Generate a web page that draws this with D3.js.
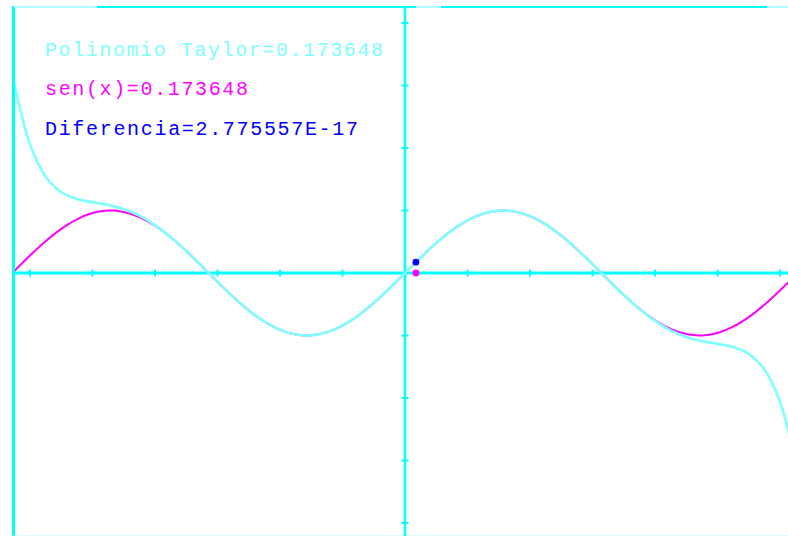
<!DOCTYPE html>
<html>
<head>
<meta charset="utf-8">
<script src="https://cdn.jsdelivr.net/npm/d3@7"></script>
<style>
  html, body { margin: 0; padding: 0; background: #ffffff; }
  svg { display: block; }
</style>
</head>
<body>
<script>
// ---------- data ----------
const xValues = [-6.2832, -6.25, -6, -5.75, -5.5, -5.25, -5, -4.75, -4.5, -4.25, -4, -3.75, -3.5, -3.25,
  -3, -2.75, -2.5, -2.25, -2, -1.75, -1.5, -1.25, -1, -0.75, -0.5, -0.25, 0,
  0.25, 0.5, 0.75, 1, 1.25, 1.5, 1.75, 2, 2.25, 2.5, 2.75, 3,
  3.25, 3.5, 3.75, 4, 4.25, 4.5, 4.75, 5, 5.25, 5.5, 5.75, 6, 6.25, 6.2832];

const sinValues = [0, 0.0332, 0.2794, 0.5083, 0.7055, 0.8589, 0.9589, 0.9993, 0.9775, 0.8950, 0.7568, 0.5716, 0.3508, 0.1082,
  -0.1411, -0.3817, -0.5985, -0.7781, -0.9093, -0.9840, -0.9975, -0.9490, -0.8415, -0.6816, -0.4794, -0.2474, 0,
  0.2474, 0.4794, 0.6816, 0.8415, 0.9490, 0.9975, 0.9840, 0.9093, 0.7781, 0.5985, 0.3817, 0.1411,
  -0.1082, -0.3508, -0.5716, -0.7568, -0.8950, -0.9775, -0.9993, -0.9589, -0.8589, -0.7055, -0.5083, -0.2794, -0.0332, 0];

const taylorValues = [3.1951, 3.0212, 2.0602, 1.5455, 1.2947, 1.1846, 1.1336, 1.0900, 1.0229, 0.9168, 0.7668, 0.5760, 0.3526, 0.1089,
  -0.1411, -0.3817, -0.5985, -0.7781, -0.9093, -0.9840, -0.9975, -0.9490, -0.8415, -0.6816, -0.4794, -0.2474, 0,
  0.2474, 0.4794, 0.6816, 0.8415, 0.9490, 0.9975, 0.9840, 0.9093, 0.7781, 0.5985, 0.3817, 0.1411,
  -0.1089, -0.3526, -0.5760, -0.7668, -0.9168, -1.0229, -1.0900, -1.1336, -1.1846, -1.2947, -1.5455, -2.0602, -3.0212, -3.1951];

const xTicks = [-6, -5, -4, -3, -2, -1, 1, 2, 3, 4, 5, 6];
const yTicks = [-4, -3, -2, -1, 1, 2, 3, 4];

const markerX = [0.174533, 0.174533];
const markerY = [0.173648, 0];

const labels = ["Polinomio Taylor=0.173648", "sen(x)=0.173648", "Diferencia=2.775557E-17"];

// ---------- layout ----------
const W = 788, H = 536;
const x0 = 405, y0 = 273, unit = 62.5;

const x = d3.scaleLinear().domain([-1, 1]).range([x0 - unit, x0 + unit]);
const y = d3.scaleLinear().domain([-1, 1]).range([y0 + unit, y0 - unit]);

const svg = d3.select("body").append("svg").attr("width", W).attr("height", H);
svg.append("rect").attr("width", W).attr("height", H).attr("fill", "#ffffff");

const AXIS = "#00ffff", PALE = "#80ffff", MAG = "#ff00ff", BLUE = "#0000ff";

// frame
const frame = svg.append("g");
frame.append("line").attr("x1", 13.5).attr("x2", 13.5).attr("y1", 6).attr("y2", H)
  .attr("stroke", AXIS).attr("stroke-width", 3);
[[14, 97, "#b0ffff"], [97, 416, AXIS], [416, 441, "#b0ffff"], [441, 767, AXIS], [767, 788, "#b0ffff"]]
  .forEach(s => frame.append("line").attr("x1", s[0]).attr("x2", s[1]).attr("y1", 7).attr("y2", 7)
    .attr("stroke", s[2]).attr("stroke-width", 2));
frame.append("line").attr("x1", 14).attr("x2", W).attr("y1", 535.5).attr("y2", 535.5)
  .attr("stroke", "#d8ffff").attr("stroke-width", 1);

// axes
const axes = svg.append("g");
axes.append("line").attr("x1", 14).attr("x2", W).attr("y1", y(0)).attr("y2", y(0))
  .attr("stroke", AXIS).attr("stroke-width", 3);
axes.append("line").attr("x1", x(0)).attr("x2", x(0)).attr("y1", 7).attr("y2", H)
  .attr("stroke", AXIS).attr("stroke-width", 2.5);
axes.selectAll(".xt").data(xTicks).enter().append("line")
  .attr("x1", d => x(d)).attr("x2", d => x(d)).attr("y1", y(0) - 3.5).attr("y2", y(0) + 3.5)
  .attr("stroke", AXIS).attr("stroke-width", 2);
axes.selectAll(".yt").data(yTicks).enter().append("line")
  .attr("y1", d => y(d)).attr("y2", d => y(d)).attr("x1", x(0) - 3.5).attr("x2", x(0) + 3.5)
  .attr("stroke", AXIS).attr("stroke-width", 2);

// curves
const clip = svg.append("clipPath").attr("id", "plotclip");
clip.append("rect").attr("x", 15).attr("y", 8).attr("width", W - 15).attr("height", H - 8);

const sinPts = xValues.map((v, i) => [v, sinValues[i]]);
const tayPts = xValues.map((v, i) => [v, taylorValues[i]]);
const line = d3.line().x(d => x(d[0])).y(d => y(d[1])).curve(d3.curveCatmullRom.alpha(0.5));

const curves = svg.append("g").attr("clip-path", "url(#plotclip)");
curves.append("path").attr("d", line(sinPts)).attr("fill", "none")
  .attr("stroke", MAG).attr("stroke-width", 2);
curves.append("path").attr("d", line(tayPts)).attr("fill", "none")
  .attr("stroke", PALE).attr("stroke-width", 2.6);

// markers
const markerColors = [BLUE, MAG];
svg.selectAll(".mk").data(markerX).enter().append("circle")
  .attr("cx", d => x(d)).attr("cy", (d, i) => y(markerY[i]))
  .attr("r", 3.4).attr("fill", (d, i) => markerColors[i]);

// texts
const textColors = [PALE, MAG, BLUE];
const textY = [56, 95, 135];
const textLen = [338, 203, 313];
svg.selectAll(".lbl").data(labels).enter().append("text")
  .attr("x", 45).attr("y", (d, i) => textY[i])
  .attr("fill", (d, i) => textColors[i])
  .attr("font-family", "'Liberation Mono', 'DejaVu Sans Mono', monospace")
  .attr("font-size", 20)
  .attr("textLength", (d, i) => textLen[i])
  .attr("lengthAdjust", "spacing")
  .text(d => d);
</script>
</body>
</html>
